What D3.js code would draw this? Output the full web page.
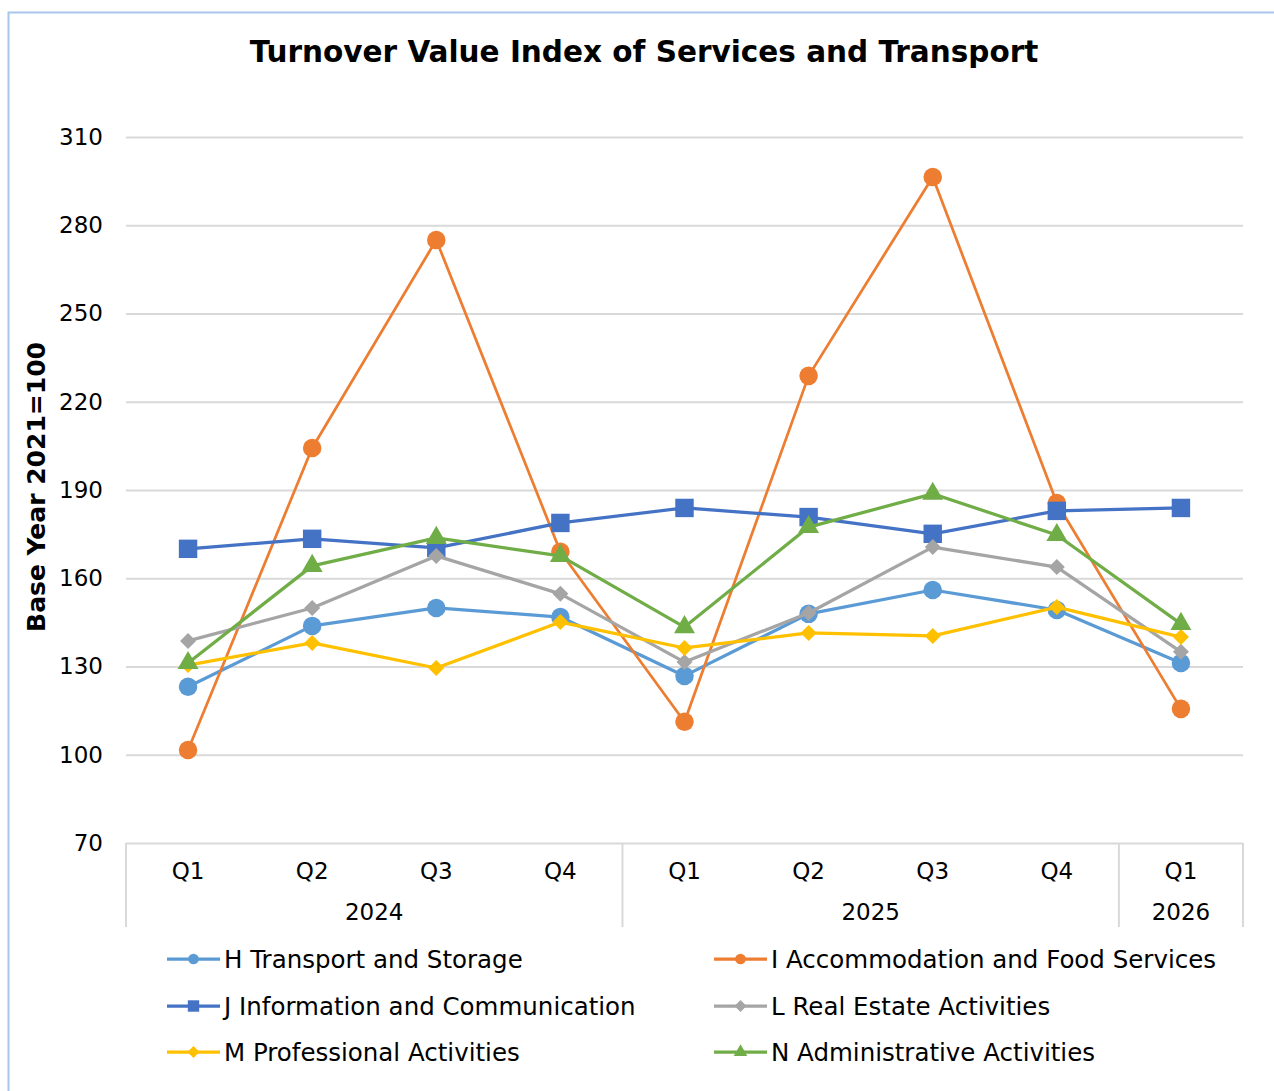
<!DOCTYPE html>
<html>
<head>
<meta charset="utf-8">
<script src="https://cdn.jsdelivr.net/npm/d3@7"></script>
<style>
  body { margin: 0; background: #fff; }
  text { font-family: "DejaVu Sans", Verdana, sans-serif; fill: #000; }
</style>
</head>
<body>
<div class="chart"></div>
<script>
// data
var quarters = ["Q1", "Q2", "Q3", "Q4", "Q1", "Q2", "Q3", "Q4", "Q1"];
var years = ["2024", "2025", "2026"];
var yearSpans = [4, 4, 1];
var yTicks = [70, 100, 130, 160, 190, 220, 250, 280, 310];

var seriesNames = [
  "H Transport and Storage",
  "I Accommodation and Food Services",
  "J Information and Communication",
  "L Real Estate Activities",
  "M Professional Activities",
  "N Administrative Activities"
];
var transport = [123.1, 143.8, 149.9, 146.8, 126.8, 147.9, 156.0, 149.2, 131.2];
var accommodation = [101.6, 204.3, 275.0, 169.0, 111.2, 228.8, 296.4, 185.6, 115.6];
var information = [170.0, 173.4, 170.3, 178.8, 183.9, 180.8, 175.1, 182.9, 183.9];
var realEstate = [138.7, 149.9, 167.6, 154.7, 131.5, 148.2, 170.6, 163.8, 135.0];
var professional = [130.5, 138.0, 129.5, 145.1, 136.3, 141.4, 140.4, 150.2, 140.0];
var administrative = [131.2, 164.2, 173.7, 167.6, 143.4, 177.4, 188.7, 174.7, 144.5];

var seriesValues = [transport, accommodation, information, realEstate, professional, administrative];
var colors = ["#5B9BD5", "#ED7D31", "#4472C4", "#A5A5A5", "#FFC000", "#70AD47"];
var shapes = ["circle", "circle", "square", "diamond", "diamond", "triangle"];

var svgWidth = 1274;
var svgHeight = 1091;
var margin = { top: 137, left: 126, right: 31, bottom: 248 };
var width = svgWidth - margin.left - margin.right;
var height = svgHeight - margin.top - margin.bottom;

var svg = d3.select(".chart")
  .append("svg")
  .attr("width", svgWidth)
  .attr("height", svgHeight);

// outer chart border (cropped at right and bottom)
svg.append("path")
  .attr("d", "M8.5," + svgHeight + "V12.5H" + svgWidth)
  .attr("fill", "none")
  .attr("stroke", "#a9c5ec")
  .attr("stroke-width", 2);

svg.append("text")
  .attr("x", 644)
  .attr("y", 62)
  .attr("text-anchor", "middle")
  .style("font-size", "29.5px")
  .style("font-weight", "bold")
  .text("Turnover Value Index of Services and Transport");

var chartGroup = svg.append("g")
  .attr("transform", `translate(${margin.left}, ${margin.top})`);

var xScale = d3.scaleBand()
  .domain(d3.range(quarters.length))
  .range([0, width]);

var yScale = d3.scaleLinear()
  .domain([70, 310])
  .range([height, 0]);

// gridlines + y tick labels
var leftAxis = d3.axisLeft(yScale)
  .tickValues(yTicks)
  .tickSize(-width)
  .tickPadding(23);

var yAxis = chartGroup.append("g").call(leftAxis);
yAxis.select(".domain").remove();
yAxis.selectAll("line")
  .attr("stroke", "#d9d9d9")
  .attr("stroke-width", 2);
yAxis.selectAll("text")
  .style("font-size", "23px")
  .attr("fill", "#000");

// y axis title
svg.append("text")
  .attr("transform", "translate(45, 487) rotate(-90)")
  .attr("text-anchor", "middle")
  .style("font-size", "25px")
  .style("font-weight", "bold")
  .text("Base Year 2021=100");

// multi-level category axis
var catAxis = chartGroup.append("g")
  .attr("transform", `translate(0, ${height})`);

var boundaries = [0];
yearSpans.reduce(function(acc, n) {
  boundaries.push(acc + n);
  return acc + n;
}, 0);

catAxis.selectAll("line.sep")
  .data(boundaries)
  .enter()
  .append("line")
  .attr("class", "sep")
  .attr("x1", d => d === quarters.length ? width : xScale(d))
  .attr("x2", d => d === quarters.length ? width : xScale(d))
  .attr("y1", 0)
  .attr("y2", 84)
  .attr("stroke", "#d9d9d9")
  .attr("stroke-width", 2);

catAxis.selectAll("text.quarter")
  .data(quarters)
  .enter()
  .append("text")
  .attr("class", "quarter")
  .attr("x", (d, i) => xScale(i) + xScale.bandwidth() / 2)
  .attr("y", 36)
  .attr("text-anchor", "middle")
  .style("font-size", "23px")
  .text(d => d);

catAxis.selectAll("text.year")
  .data(years)
  .enter()
  .append("text")
  .attr("class", "year")
  .attr("x", (d, i) => {
    var a = xScale(boundaries[i]);
    var b = boundaries[i + 1] === quarters.length ? width : xScale(boundaries[i + 1]);
    return (a + b) / 2;
  })
  .attr("y", 77)
  .attr("text-anchor", "middle")
  .style("font-size", "23px")
  .text(d => d);

// markers
function symbolFor(shape, big) {
  if (shape === "circle") return d3.symbol().type(d3.symbolCircle).size(big ? 270 : 90)();
  if (shape === "square") return d3.symbol().type(d3.symbolSquare).size(big ? 340 : 130)();
  if (shape === "triangle") return d3.symbol().type(d3.symbolTriangle).size(big ? 190 : 80)();
  // diamond = square turned 45 degrees
  var s = big ? 8 : 6;
  return `M0,${-s}L${s},0L0,${s}L${-s},0Z`;
}

var line = d3.line()
  .x((d, i) => xScale(i) + xScale.bandwidth() / 2)
  .y(d => yScale(d));

seriesValues.forEach(function(values, k) {
  var g = chartGroup.append("g");
  g.append("path")
    .datum(values)
    .attr("d", line)
    .attr("fill", "none")
    .attr("stroke", colors[k])
    .attr("stroke-width", k === 1 ? 2.75 : 3.25)
    .attr("stroke-linejoin", "round");
  g.selectAll("path.marker")
    .data(values)
    .enter()
    .append("path")
    .attr("class", "marker")
    .attr("transform", (d, i) => `translate(${xScale(i) + xScale.bandwidth() / 2}, ${yScale(d)})`)
    .attr("d", symbolFor(shapes[k], true))
    .attr("fill", colors[k]);
});

// legend
var legendCols = [167, 714];
var legendRows = [959, 1006, 1052];
var legend = svg.append("g");
seriesNames.forEach(function(name, k) {
  var lx = legendCols[k % 2];
  var ly = legendRows[Math.floor(k / 2)];
  var item = legend.append("g").attr("transform", `translate(${lx}, ${ly})`);
  item.append("line")
    .attr("x1", 0)
    .attr("x2", 53)
    .attr("stroke", colors[k])
    .attr("stroke-width", 3.25);
  item.append("path")
    .attr("transform", "translate(26.5, 0)")
    .attr("d", symbolFor(shapes[k], false))
    .attr("fill", colors[k]);
  item.append("text")
    .attr("x", 57)
    .attr("y", 9)
    .style("font-size", "24.5px")
    .text(name);
});
</script>
</body>
</html>
